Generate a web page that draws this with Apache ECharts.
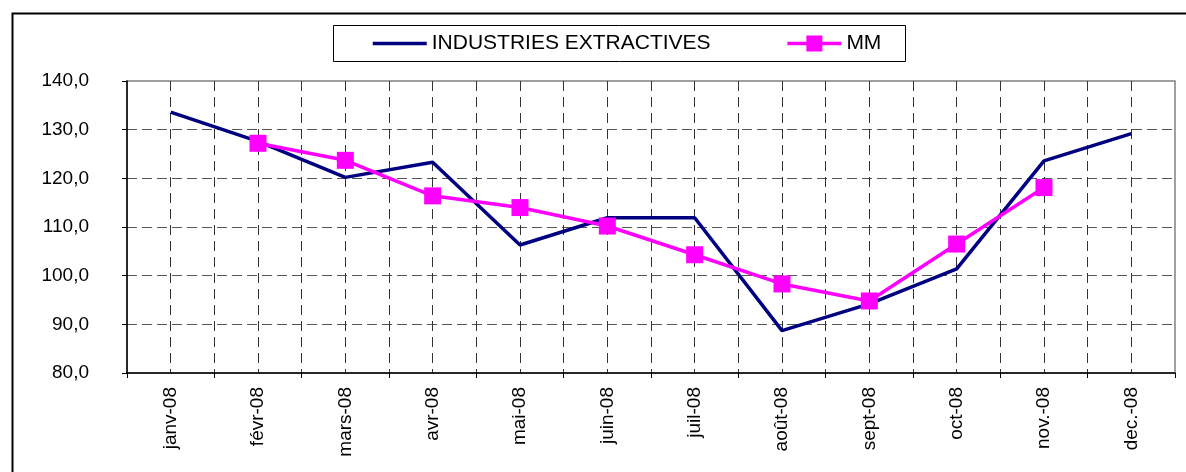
<!DOCTYPE html>
<html>
<head>
<meta charset="utf-8">
<script src="https://cdn.jsdelivr.net/npm/echarts/dist/echarts.min.js"></script>
<style>
  html, body { margin: 0; padding: 0; background: #fff; }
  #chart { width: 1186px; height: 472px; }
</style>
</head>
<body>
<div id="chart"></div>
<script>
  // mois
  const months = ['janv-08', 'févr-08', 'mars-08', 'avr-08', 'mai-08', 'juin-08',
    'juil-08', 'août-08', 'sept-08', 'oct-08', 'nov.-08', 'dec.-08']
  // indice brut
  const industries = [133.6, 127.6, 120.2, 123.3, 106.3, 111.9, 111.9, 88.7, 94.2, 101.4, 123.6, 129.2]
  // moyenne mobile (pas de valeur aux extrémités)
  const mm = [null, 127.2, 123.7, 116.4, 114.0, 110.2, 104.3, 98.3, 94.8, 106.5, 118.1, null]
  const yTicks = ['80,0', '90,0', '100,0', '110,0', '120,0', '130,0', '140,0']

  const font = 'Liberation Sans, Arial, sans-serif'
  const myChart = echarts.init(document.getElementById('chart'))

  const option = {
    animation: false,
    backgroundColor: '#fff',
    textStyle: { fontFamily: font, color: '#000' },
    graphic: [
      // cadre extérieur
      { type: 'rect', left: 10, top: 11, shape: { width: 1200, height: 500 },
        style: { fill: 'none', stroke: '#000', lineWidth: 2 }, silent: true },
      // cadre légende
      { type: 'rect', left: 333, top: 25, shape: { width: 572, height: 36 },
        style: { fill: '#fff', stroke: '#000', lineWidth: 1 }, silent: true, z: 0 }
    ],
    legend: {
      left: 371,
      top: 33,
      padding: 0,
      itemGap: 75,
      itemWidth: 54,
      itemHeight: 20,
      textStyle: { fontFamily: font, fontSize: 21, color: '#000', padding: [0, 0, 0, 0] },
      data: [
        { name: 'INDUSTRIES EXTRACTIVES', itemStyle: { opacity: 0 }, lineStyle: { width: 3.5 } },
        { name: 'MM', lineStyle: { width: 3.5 } }
      ],
      z: 5
    },
    grid: {
      left: 127,
      top: 81,
      right: 11,
      bottom: 99,
      show: true,
      borderColor: '#808080',
      borderWidth: 1.5,
      containLabel: false
    },
    xAxis: [
      {
        type: 'category',
        data: months,
        boundaryGap: true,
        axisLine: { lineStyle: { color: '#000', width: 1.5 } },
        axisTick: { show: true, length: 5, lineStyle: { color: '#000' } },
        axisLabel: { rotate: 90, margin: 14, fontSize: 19, color: '#000', fontFamily: font, interval: 0 },
        splitLine: { show: false }
      },
      {
        // grille verticale : limites et milieux des catégories
        type: 'value',
        min: 0,
        max: 24,
        interval: 1,
        position: 'bottom',
        axisLine: { show: false },
        axisTick: { show: false },
        axisLabel: { show: false },
        splitLine: {
          show: true,
          showMinLine: false,
          showMaxLine: false,
          lineStyle: { color: '#333', width: 1, type: [10, 6] }
        }
      }
    ],
    yAxis: {
      type: 'value',
      min: 80,
      max: 140,
      interval: 10,
      axisLine: { show: true, lineStyle: { color: '#000', width: 1.5 } },
      axisTick: { show: true, length: 5, lineStyle: { color: '#000' } },
      axisLabel: {
        margin: 38,
        fontSize: 19,
        color: '#000',
        fontFamily: font,
        formatter: v => yTicks[Math.round((v - 80) / 10)]
      },
      splitLine: {
        show: true,
        showMinLine: false,
        showMaxLine: false,
        lineStyle: { color: '#555', width: 1.2, type: [10, 5] }
      }
    },
    series: [
      {
        name: 'INDUSTRIES EXTRACTIVES',
        type: 'line',
        xAxisIndex: 0,
        data: industries,
        symbol: 'none',
        lineStyle: { color: '#000080', width: 3.5 },
        itemStyle: { color: '#000080' },
        z: 3
      },
      {
        name: 'MM',
        type: 'line',
        xAxisIndex: 0,
        data: mm,
        symbol: 'rect',
        symbolSize: 17,
        lineStyle: { color: '#FF00FF', width: 3.5 },
        itemStyle: { color: '#FF00FF' },
        z: 4
      }
    ]
  }

  myChart.setOption(option)
</script>
</body>
</html>
